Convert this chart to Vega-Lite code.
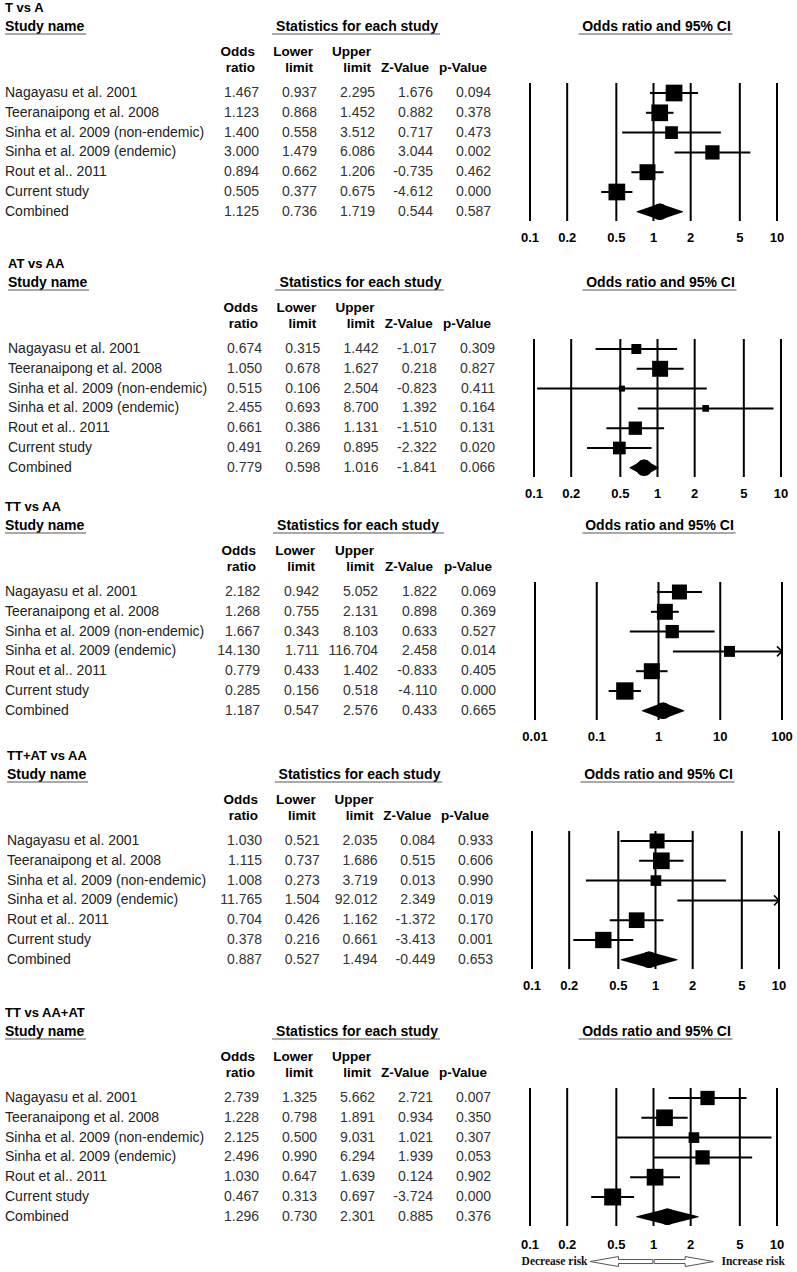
{
"$schema": "https://vega.github.io/schema/vega-lite/v6.json",
"background": "white",
"padding": 0,
"spacing": 0,
"bounds": "flush",
"config": {"view": {"stroke": null}, "text": {"font": "Liberation Sans"}, "locale": {"number": {"decimal": ".", "thousands": ",", "grouping": [3], "currency": ["$", ""], "minus": "-"}}},
"datasets": {
"panels": [{"panel":1,"title":"T vs A"},{"panel":2,"title":"AT vs AA"},{"panel":3,"title":"TT vs AA"},{"panel":4,"title":"TT+AT vs AA"},{"panel":5,"title":"TT vs AA+AT"}],
"colheads": [{"col":"or","l1":"Odds","l2":"ratio"},{"col":"lo","l1":"Lower","l2":"limit"},{"col":"hi","l1":"Upper","l2":"limit"},{"col":"z","l1":"","l2":"Z-Value"},{"col":"p","l1":"","l2":"p-Value"}],
"ticks": [
{"panel":1,"v":0.1},{"panel":1,"v":0.2},{"panel":1,"v":0.5},{"panel":1,"v":1},{"panel":1,"v":2},{"panel":1,"v":5},{"panel":1,"v":10},
{"panel":2,"v":0.1},{"panel":2,"v":0.2},{"panel":2,"v":0.5},{"panel":2,"v":1},{"panel":2,"v":2},{"panel":2,"v":5},{"panel":2,"v":10},
{"panel":3,"v":0.01},{"panel":3,"v":0.1},{"panel":3,"v":1},{"panel":3,"v":10},{"panel":3,"v":100},
{"panel":4,"v":0.1},{"panel":4,"v":0.2},{"panel":4,"v":0.5},{"panel":4,"v":1},{"panel":4,"v":2},{"panel":4,"v":5},{"panel":4,"v":10},
{"panel":5,"v":0.1},{"panel":5,"v":0.2},{"panel":5,"v":0.5},{"panel":5,"v":1},{"panel":5,"v":2},{"panel":5,"v":5},{"panel":5,"v":10}
],
"studies": [
{"panel":1,"row":1,"study":"Nagayasu et al. 2001","or":1.467,"lo":0.937,"hi":2.295,"z":1.676,"p":0.094,"wt":93},
{"panel":1,"row":2,"study":"Teeranaipong et al. 2008","or":1.123,"lo":0.868,"hi":1.452,"z":0.882,"p":0.378,"wt":93},
{"panel":1,"row":3,"study":"Sinha et al. 2009 (non-endemic)","or":1.400,"lo":0.558,"hi":3.512,"z":0.717,"p":0.473,"wt":54},
{"panel":1,"row":4,"study":"Sinha et al. 2009 (endemic)","or":3.000,"lo":1.479,"hi":6.086,"z":3.044,"p":0.002,"wt":68},
{"panel":1,"row":5,"study":"Rout et al.. 2011","or":0.894,"lo":0.662,"hi":1.206,"z":-0.735,"p":0.462,"wt":85},
{"panel":1,"row":6,"study":"Current study","or":0.505,"lo":0.377,"hi":0.675,"z":-4.612,"p":0.000,"wt":93},
{"panel":1,"row":7,"study":"Combined","or":1.125,"lo":0.736,"hi":1.719,"z":0.544,"p":0.587},
{"panel":2,"row":1,"study":"Nagayasu et al. 2001","or":0.674,"lo":0.315,"hi":1.442,"z":-1.017,"p":0.309,"wt":33},
{"panel":2,"row":2,"study":"Teeranaipong et al. 2008","or":1.050,"lo":0.678,"hi":1.627,"z":0.218,"p":0.827,"wt":85},
{"panel":2,"row":3,"study":"Sinha et al. 2009 (non-endemic)","or":0.515,"lo":0.106,"hi":2.504,"z":-0.823,"p":0.411,"wt":12},
{"panel":2,"row":4,"study":"Sinha et al. 2009 (endemic)","or":2.455,"lo":0.693,"hi":8.700,"z":1.392,"p":0.164,"wt":15},
{"panel":2,"row":5,"study":"Rout et al.. 2011","or":0.661,"lo":0.386,"hi":1.131,"z":-1.510,"p":0.131,"wt":59},
{"panel":2,"row":6,"study":"Current study","or":0.491,"lo":0.269,"hi":0.895,"z":-2.322,"p":0.020,"wt":54},
{"panel":2,"row":7,"study":"Combined","or":0.779,"lo":0.598,"hi":1.016,"z":-1.841,"p":0.066},
{"panel":3,"row":1,"study":"Nagayasu et al. 2001","or":2.182,"lo":0.942,"hi":5.052,"z":1.822,"p":0.069,"wt":75},
{"panel":3,"row":2,"study":"Teeranaipong et al. 2008","or":1.268,"lo":0.755,"hi":2.131,"z":0.898,"p":0.369,"wt":85},
{"panel":3,"row":3,"study":"Sinha et al. 2009 (non-endemic)","or":1.667,"lo":0.343,"hi":8.103,"z":0.633,"p":0.527,"wt":59},
{"panel":3,"row":4,"study":"Sinha et al. 2009 (endemic)","or":14.130,"lo":1.711,"hi":116.704,"z":2.458,"p":0.014,"wt":40},
{"panel":3,"row":5,"study":"Rout et al.. 2011","or":0.779,"lo":0.433,"hi":1.402,"z":-0.833,"p":0.405,"wt":85},
{"panel":3,"row":6,"study":"Current study","or":0.285,"lo":0.156,"hi":0.518,"z":-4.110,"p":0.000,"wt":100},
{"panel":3,"row":7,"study":"Combined","or":1.187,"lo":0.547,"hi":2.576,"z":0.433,"p":0.665},
{"panel":4,"row":1,"study":"Nagayasu et al. 2001","or":1.030,"lo":0.521,"hi":2.035,"z":0.084,"p":0.933,"wt":75},
{"panel":4,"row":2,"study":"Teeranaipong et al. 2008","or":1.115,"lo":0.737,"hi":1.686,"z":0.515,"p":0.606,"wt":93},
{"panel":4,"row":3,"study":"Sinha et al. 2009 (non-endemic)","or":1.008,"lo":0.273,"hi":3.719,"z":0.013,"p":0.990,"wt":38},
{"panel":4,"row":4,"study":"Sinha et al. 2009 (endemic)","or":11.765,"lo":1.504,"hi":92.012,"z":2.349,"p":0.019,"wt":40},
{"panel":4,"row":5,"study":"Rout et al.. 2011","or":0.704,"lo":0.426,"hi":1.162,"z":-1.372,"p":0.170,"wt":82},
{"panel":4,"row":6,"study":"Current study","or":0.378,"lo":0.216,"hi":0.661,"z":-3.413,"p":0.001,"wt":89},
{"panel":4,"row":7,"study":"Combined","or":0.887,"lo":0.527,"hi":1.494,"z":-0.449,"p":0.653},
{"panel":5,"row":1,"study":"Nagayasu et al. 2001","or":2.739,"lo":1.325,"hi":5.662,"z":2.721,"p":0.007,"wt":68},
{"panel":5,"row":2,"study":"Teeranaipong et al. 2008","or":1.228,"lo":0.798,"hi":1.891,"z":0.934,"p":0.350,"wt":93},
{"panel":5,"row":3,"study":"Sinha et al. 2009 (non-endemic)","or":2.125,"lo":0.500,"hi":9.031,"z":1.021,"p":0.307,"wt":38},
{"panel":5,"row":4,"study":"Sinha et al. 2009 (endemic)","or":2.496,"lo":0.990,"hi":6.294,"z":1.939,"p":0.053,"wt":68},
{"panel":5,"row":5,"study":"Rout et al.. 2011","or":1.030,"lo":0.647,"hi":1.639,"z":0.124,"p":0.902,"wt":93},
{"panel":5,"row":6,"study":"Current study","or":0.467,"lo":0.313,"hi":0.697,"z":-3.724,"p":0.000,"wt":96},
{"panel":5,"row":7,"study":"Combined","or":1.296,"lo":0.730,"hi":2.301,"z":0.885,"p":0.376}
]
},
"vconcat": [
{
"width": 797, "height": 256,
"resolve": {"scale": {"x": "independent"}},
"layer": [
{"layer": [
{"data": {"name": "panels"}, "transform": [{"filter": "datum.panel == 1"}],
 "mark": {"type": "text", "align": "left", "baseline": "middle", "fontSize": 13, "fontWeight": "bold", "color": "#000"},
 "encoding": {"x": {"datum": "name", "type": "nominal", "scale": {"type": "point", "domain": ["name"], "range": [5, 5], "padding": 0}, "axis": null},
  "y": {"datum": -3.29, "type": "quantitative", "scale": {"domain": [-3.697, 9.232], "reverse": true, "nice": false, "zero": false}, "axis": null},
  "text": {"field": "title", "type": "nominal"}}},
{"data": {"name": "panels"}, "transform": [{"filter": "datum.panel == 1"}],
 "mark": {"type": "text", "align": "left", "baseline": "middle", "fontSize": 14, "fontWeight": "bold", "color": "#000", "text": "Study name"},
 "encoding": {"x": {"datum": "name", "type": "nominal", "axis": null}, "y": {"datum": -2.31, "type": "quantitative", "axis": null}}},
{"data": {"name": "panels"}, "transform": [{"filter": "datum.panel == 1"}],
 "mark": {"type": "rule", "x2Offset": 81, "color": "#555", "strokeWidth": 1.2},
 "encoding": {"x": {"datum": "name", "type": "nominal", "axis": null}, "x2": {"datum": "name"}, "y": {"datum": -1.98, "type": "quantitative", "axis": null}}},
{"data": {"name": "studies"}, "transform": [{"filter": "datum.panel == 1"}],
 "mark": {"type": "text", "align": "left", "baseline": "middle", "fontSize": 14, "color": "#222"},
 "encoding": {"x": {"datum": "name", "type": "nominal", "axis": null}, "y": {"field": "row", "type": "quantitative", "axis": null}, "text": {"field": "study", "type": "nominal"}}}
]},
{"layer": [
{"data": {"name": "studies"}, "transform": [{"filter": "datum.panel == 1"}, {"fold": ["or", "lo", "hi", "z", "p"], "as": ["col", "val"]}],
 "mark": {"type": "text", "align": "right", "baseline": "middle", "fontSize": 14, "color": "#333"},
 "encoding": {"x": {"field": "col", "type": "nominal", "scale": {"type": "point", "domain": ["or", "lo", "hi", "z", "p"], "range": [259, 491], "padding": 0}, "axis": null},
  "y": {"field": "row", "type": "quantitative", "axis": null},
  "text": {"field": "val", "type": "quantitative", "format": ".3f"}}},
{"data": {"name": "colheads"},
 "mark": {"type": "text", "align": "right", "baseline": "middle", "dx": -4, "fontSize": 13.5, "fontWeight": "bold", "color": "#000"},
 "encoding": {"x": {"field": "col", "type": "nominal", "axis": null}, "y": {"datum": -1.056, "type": "quantitative", "axis": null}, "text": {"field": "l1", "type": "nominal"}}},
{"data": {"name": "colheads"},
 "mark": {"type": "text", "align": "right", "baseline": "middle", "dx": -4, "fontSize": 13.5, "fontWeight": "bold", "color": "#000"},
 "encoding": {"x": {"field": "col", "type": "nominal", "axis": null}, "y": {"datum": -0.247, "type": "quantitative", "axis": null}, "text": {"field": "l2", "type": "nominal"}}},
{"data": {"name": "panels"}, "transform": [{"filter": "datum.panel == 1"}],
 "mark": {"type": "text", "align": "center", "baseline": "middle", "dx": -18, "fontSize": 14, "fontWeight": "bold", "color": "#000", "text": "Statistics for each study"},
 "encoding": {"x": {"datum": "hi", "type": "nominal", "axis": null}, "y": {"datum": -2.31, "type": "quantitative", "axis": null}}},
{"data": {"name": "panels"}, "transform": [{"filter": "datum.panel == 1"}],
 "mark": {"type": "rule", "xOffset": 13, "x2Offset": 7, "color": "#555", "strokeWidth": 1.2},
 "encoding": {"x": {"datum": "or", "type": "nominal", "axis": null}, "x2": {"datum": "z"}, "y": {"datum": -1.98, "type": "quantitative", "axis": null}}}
]},
{"resolve": {"scale": {"size": "independent"}},
 "layer": [
{"data": {"name": "panels"}, "transform": [{"filter": "datum.panel == 1"}],
 "mark": {"type": "text", "align": "center", "baseline": "middle", "dx": 3, "fontSize": 14, "fontWeight": "bold", "color": "#000", "text": "Odds ratio and 95% CI"},
 "encoding": {"x": {"datum": 1, "type": "quantitative", "scale": {"type": "log", "domain": [0.1, 10], "range": [530, 777], "clamp": true, "nice": false}, "axis": null}, "y": {"datum": -2.31, "type": "quantitative", "axis": null}}},
{"data": {"name": "panels"}, "transform": [{"filter": "datum.panel == 1"}],
 "mark": {"type": "rule", "xOffset": -75, "x2Offset": 79, "color": "#555", "strokeWidth": 1.2},
 "encoding": {"x": {"datum": 1, "type": "quantitative", "axis": null}, "x2": {"datum": 1}, "y": {"datum": -1.98, "type": "quantitative", "axis": null}}},
{"data": {"name": "ticks"}, "transform": [{"filter": "datum.panel == 1"}],
 "mark": {"type": "rule", "color": "#000", "strokeWidth": 2},
 "encoding": {"x": {"field": "v", "type": "quantitative", "axis": null}, "y": {"datum": 0.495, "type": "quantitative", "axis": null}, "y2": {"datum": 7.465}}},
{"data": {"name": "ticks"}, "transform": [{"filter": "datum.panel == 1"}],
 "mark": {"type": "text", "align": "center", "baseline": "middle", "fontSize": 13, "fontWeight": "bold", "color": "#000"},
 "encoding": {"x": {"field": "v", "type": "quantitative", "axis": null}, "y": {"datum": 8.34, "type": "quantitative", "axis": null}, "text": {"field": "v", "type": "quantitative", "format": "~g"}}},
{"data": {"name": "studies"}, "transform": [{"filter": "datum.panel == 1 && datum.row < 7"}],
 "mark": {"type": "rule", "color": "#000", "strokeWidth": 2},
 "encoding": {"x": {"field": "lo", "type": "quantitative", "axis": null}, "x2": {"field": "hi"}, "y": {"field": "row", "type": "quantitative", "axis": null}}},
{"data": {"name": "studies"}, "transform": [{"filter": "datum.panel == 1 && datum.row < 7 && datum.or <= 10"}],
 "mark": {"type": "square", "filled": true, "color": "#000", "opacity": 1},
 "encoding": {"x": {"field": "or", "type": "quantitative", "axis": null}, "y": {"field": "row", "type": "quantitative", "axis": null}, "size": {"field": "wt", "type": "quantitative", "scale": {"domain": [0, 100], "range": [0, 300]}, "legend": null}}},
{"data": {"name": "studies"}, "transform": [{"filter": "datum.panel == 1 && datum.row == 7"}, {"fold": ["lo", "or"], "as": ["k", "xv"]}],
 "mark": {"type": "trail", "color": "#000"},
 "encoding": {"x": {"field": "xv", "type": "quantitative", "axis": null}, "y": {"field": "row", "type": "quantitative", "axis": null}, "size": {"field": "k", "type": "ordinal", "scale": {"type": "point", "domain": ["lo", "or"], "range": [0, 16.5]}, "legend": null}}},
{"data": {"name": "studies"}, "transform": [{"filter": "datum.panel == 1 && datum.row == 7"}, {"fold": ["or", "hi"], "as": ["k", "xv"]}],
 "mark": {"type": "trail", "color": "#000"},
 "encoding": {"x": {"field": "xv", "type": "quantitative", "axis": null}, "y": {"field": "row", "type": "quantitative", "axis": null}, "size": {"field": "k", "type": "ordinal", "scale": {"type": "point", "domain": ["hi", "or"], "range": [0, 16.5]}, "legend": null}}}
]}
]
},
{
"width": 797, "height": 243,
"resolve": {"scale": {"x": "independent"}},
"layer": [
{"layer": [
{"data": {"name": "panels"}, "transform": [{"filter": "datum.panel == 2"}],
 "mark": {"type": "text", "align": "left", "baseline": "middle", "fontSize": 13, "fontWeight": "bold", "color": "#000"},
 "encoding": {"x": {"datum": "name", "type": "nominal", "scale": {"type": "point", "domain": ["name"], "range": [8, 8], "padding": 0}, "axis": null},
  "y": {"datum": -3.29, "type": "quantitative", "scale": {"domain": [-3.697, 8.576], "reverse": true, "nice": false, "zero": false}, "axis": null},
  "text": {"field": "title", "type": "nominal"}}},
{"data": {"name": "panels"}, "transform": [{"filter": "datum.panel == 2"}],
 "mark": {"type": "text", "align": "left", "baseline": "middle", "fontSize": 14, "fontWeight": "bold", "color": "#000", "text": "Study name"},
 "encoding": {"x": {"datum": "name", "type": "nominal", "axis": null}, "y": {"datum": -2.31, "type": "quantitative", "axis": null}}},
{"data": {"name": "panels"}, "transform": [{"filter": "datum.panel == 2"}],
 "mark": {"type": "rule", "x2Offset": 81, "color": "#555", "strokeWidth": 1.2},
 "encoding": {"x": {"datum": "name", "type": "nominal", "axis": null}, "x2": {"datum": "name"}, "y": {"datum": -1.98, "type": "quantitative", "axis": null}}},
{"data": {"name": "studies"}, "transform": [{"filter": "datum.panel == 2"}],
 "mark": {"type": "text", "align": "left", "baseline": "middle", "fontSize": 14, "color": "#222"},
 "encoding": {"x": {"datum": "name", "type": "nominal", "axis": null}, "y": {"field": "row", "type": "quantitative", "axis": null}, "text": {"field": "study", "type": "nominal"}}}
]},
{"layer": [
{"data": {"name": "studies"}, "transform": [{"filter": "datum.panel == 2"}, {"fold": ["or", "lo", "hi", "z", "p"], "as": ["col", "val"]}],
 "mark": {"type": "text", "align": "right", "baseline": "middle", "fontSize": 14, "color": "#333"},
 "encoding": {"x": {"field": "col", "type": "nominal", "scale": {"type": "point", "domain": ["or", "lo", "hi", "z", "p"], "range": [262, 495], "padding": 0}, "axis": null},
  "y": {"field": "row", "type": "quantitative", "axis": null},
  "text": {"field": "val", "type": "quantitative", "format": ".3f"}}},
{"data": {"name": "colheads"},
 "mark": {"type": "text", "align": "right", "baseline": "middle", "dx": -4, "fontSize": 13.5, "fontWeight": "bold", "color": "#000"},
 "encoding": {"x": {"field": "col", "type": "nominal", "axis": null}, "y": {"datum": -1.056, "type": "quantitative", "axis": null}, "text": {"field": "l1", "type": "nominal"}}},
{"data": {"name": "colheads"},
 "mark": {"type": "text", "align": "right", "baseline": "middle", "dx": -4, "fontSize": 13.5, "fontWeight": "bold", "color": "#000"},
 "encoding": {"x": {"field": "col", "type": "nominal", "axis": null}, "y": {"datum": -0.247, "type": "quantitative", "axis": null}, "text": {"field": "l2", "type": "nominal"}}},
{"data": {"name": "panels"}, "transform": [{"filter": "datum.panel == 2"}],
 "mark": {"type": "text", "align": "center", "baseline": "middle", "dx": -18, "fontSize": 14, "fontWeight": "bold", "color": "#000", "text": "Statistics for each study"},
 "encoding": {"x": {"datum": "hi", "type": "nominal", "axis": null}, "y": {"datum": -2.31, "type": "quantitative", "axis": null}}},
{"data": {"name": "panels"}, "transform": [{"filter": "datum.panel == 2"}],
 "mark": {"type": "rule", "xOffset": 13, "x2Offset": 7, "color": "#555", "strokeWidth": 1.2},
 "encoding": {"x": {"datum": "or", "type": "nominal", "axis": null}, "x2": {"datum": "z"}, "y": {"datum": -1.98, "type": "quantitative", "axis": null}}}
]},
{"resolve": {"scale": {"size": "independent"}},
 "layer": [
{"data": {"name": "panels"}, "transform": [{"filter": "datum.panel == 2"}],
 "mark": {"type": "text", "align": "center", "baseline": "middle", "dx": 3, "fontSize": 14, "fontWeight": "bold", "color": "#000", "text": "Odds ratio and 95% CI"},
 "encoding": {"x": {"datum": 1, "type": "quantitative", "scale": {"type": "log", "domain": [0.1, 10], "range": [534, 781], "clamp": true, "nice": false}, "axis": null}, "y": {"datum": -2.31, "type": "quantitative", "axis": null}}},
{"data": {"name": "panels"}, "transform": [{"filter": "datum.panel == 2"}],
 "mark": {"type": "rule", "xOffset": -75, "x2Offset": 79, "color": "#555", "strokeWidth": 1.2},
 "encoding": {"x": {"datum": 1, "type": "quantitative", "axis": null}, "x2": {"datum": 1}, "y": {"datum": -1.98, "type": "quantitative", "axis": null}}},
{"data": {"name": "ticks"}, "transform": [{"filter": "datum.panel == 2"}],
 "mark": {"type": "rule", "color": "#000", "strokeWidth": 2},
 "encoding": {"x": {"field": "v", "type": "quantitative", "axis": null}, "y": {"datum": 0.495, "type": "quantitative", "axis": null}, "y2": {"datum": 7.465}}},
{"data": {"name": "ticks"}, "transform": [{"filter": "datum.panel == 2"}],
 "mark": {"type": "text", "align": "center", "baseline": "middle", "fontSize": 13, "fontWeight": "bold", "color": "#000"},
 "encoding": {"x": {"field": "v", "type": "quantitative", "axis": null}, "y": {"datum": 8.34, "type": "quantitative", "axis": null}, "text": {"field": "v", "type": "quantitative", "format": "~g"}}},
{"data": {"name": "studies"}, "transform": [{"filter": "datum.panel == 2 && datum.row < 7"}],
 "mark": {"type": "rule", "color": "#000", "strokeWidth": 2},
 "encoding": {"x": {"field": "lo", "type": "quantitative", "axis": null}, "x2": {"field": "hi"}, "y": {"field": "row", "type": "quantitative", "axis": null}}},
{"data": {"name": "studies"}, "transform": [{"filter": "datum.panel == 2 && datum.row < 7 && datum.or <= 10"}],
 "mark": {"type": "square", "filled": true, "color": "#000", "opacity": 1},
 "encoding": {"x": {"field": "or", "type": "quantitative", "axis": null}, "y": {"field": "row", "type": "quantitative", "axis": null}, "size": {"field": "wt", "type": "quantitative", "scale": {"domain": [0, 100], "range": [0, 300]}, "legend": null}}},
{"data": {"name": "studies"}, "transform": [{"filter": "datum.panel == 2 && datum.row == 7"}, {"fold": ["lo", "or"], "as": ["k", "xv"]}],
 "mark": {"type": "trail", "color": "#000"},
 "encoding": {"x": {"field": "xv", "type": "quantitative", "axis": null}, "y": {"field": "row", "type": "quantitative", "axis": null}, "size": {"field": "k", "type": "ordinal", "scale": {"type": "point", "domain": ["lo", "or"], "range": [0, 16.5]}, "legend": null}}},
{"data": {"name": "studies"}, "transform": [{"filter": "datum.panel == 2 && datum.row == 7"}, {"fold": ["or", "hi"], "as": ["k", "xv"]}],
 "mark": {"type": "trail", "color": "#000"},
 "encoding": {"x": {"field": "xv", "type": "quantitative", "axis": null}, "y": {"field": "row", "type": "quantitative", "axis": null}, "size": {"field": "k", "type": "ordinal", "scale": {"type": "point", "domain": ["hi", "or"], "range": [0, 16.5]}, "legend": null}}}
]}
]
},
{
"width": 797, "height": 249,
"resolve": {"scale": {"x": "independent"}},
"layer": [
{"layer": [
{"data": {"name": "panels"}, "transform": [{"filter": "datum.panel == 3"}],
 "mark": {"type": "text", "align": "left", "baseline": "middle", "fontSize": 13, "fontWeight": "bold", "color": "#000"},
 "encoding": {"x": {"datum": "name", "type": "nominal", "scale": {"type": "point", "domain": ["name"], "range": [5, 5], "padding": 0}, "axis": null},
  "y": {"datum": -3.29, "type": "quantitative", "scale": {"domain": [-3.697, 8.879], "reverse": true, "nice": false, "zero": false}, "axis": null},
  "text": {"field": "title", "type": "nominal"}}},
{"data": {"name": "panels"}, "transform": [{"filter": "datum.panel == 3"}],
 "mark": {"type": "text", "align": "left", "baseline": "middle", "fontSize": 14, "fontWeight": "bold", "color": "#000", "text": "Study name"},
 "encoding": {"x": {"datum": "name", "type": "nominal", "axis": null}, "y": {"datum": -2.31, "type": "quantitative", "axis": null}}},
{"data": {"name": "panels"}, "transform": [{"filter": "datum.panel == 3"}],
 "mark": {"type": "rule", "x2Offset": 81, "color": "#555", "strokeWidth": 1.2},
 "encoding": {"x": {"datum": "name", "type": "nominal", "axis": null}, "x2": {"datum": "name"}, "y": {"datum": -1.98, "type": "quantitative", "axis": null}}},
{"data": {"name": "studies"}, "transform": [{"filter": "datum.panel == 3"}],
 "mark": {"type": "text", "align": "left", "baseline": "middle", "fontSize": 14, "color": "#222"},
 "encoding": {"x": {"datum": "name", "type": "nominal", "axis": null}, "y": {"field": "row", "type": "quantitative", "axis": null}, "text": {"field": "study", "type": "nominal"}}}
]},
{"layer": [
{"data": {"name": "studies"}, "transform": [{"filter": "datum.panel == 3"}, {"fold": ["or", "lo", "hi", "z", "p"], "as": ["col", "val"]}],
 "mark": {"type": "text", "align": "right", "baseline": "middle", "fontSize": 14, "color": "#333"},
 "encoding": {"x": {"field": "col", "type": "nominal", "scale": {"type": "point", "domain": ["or", "lo", "hi", "z", "p"], "range": [260, 496], "padding": 0}, "axis": null},
  "y": {"field": "row", "type": "quantitative", "axis": null},
  "text": {"field": "val", "type": "quantitative", "format": ".3f"}}},
{"data": {"name": "colheads"},
 "mark": {"type": "text", "align": "right", "baseline": "middle", "dx": -4, "fontSize": 13.5, "fontWeight": "bold", "color": "#000"},
 "encoding": {"x": {"field": "col", "type": "nominal", "axis": null}, "y": {"datum": -1.056, "type": "quantitative", "axis": null}, "text": {"field": "l1", "type": "nominal"}}},
{"data": {"name": "colheads"},
 "mark": {"type": "text", "align": "right", "baseline": "middle", "dx": -4, "fontSize": 13.5, "fontWeight": "bold", "color": "#000"},
 "encoding": {"x": {"field": "col", "type": "nominal", "axis": null}, "y": {"datum": -0.247, "type": "quantitative", "axis": null}, "text": {"field": "l2", "type": "nominal"}}},
{"data": {"name": "panels"}, "transform": [{"filter": "datum.panel == 3"}],
 "mark": {"type": "text", "align": "center", "baseline": "middle", "dx": -20, "fontSize": 14, "fontWeight": "bold", "color": "#000", "text": "Statistics for each study"},
 "encoding": {"x": {"datum": "hi", "type": "nominal", "axis": null}, "y": {"datum": -2.31, "type": "quantitative", "axis": null}}},
{"data": {"name": "panels"}, "transform": [{"filter": "datum.panel == 3"}],
 "mark": {"type": "rule", "xOffset": 13, "x2Offset": 7, "color": "#555", "strokeWidth": 1.2},
 "encoding": {"x": {"datum": "or", "type": "nominal", "axis": null}, "x2": {"datum": "z"}, "y": {"datum": -1.98, "type": "quantitative", "axis": null}}}
]},
{"resolve": {"scale": {"size": "independent"}},
 "layer": [
{"data": {"name": "panels"}, "transform": [{"filter": "datum.panel == 3"}],
 "mark": {"type": "text", "align": "center", "baseline": "middle", "dx": 1, "fontSize": 14, "fontWeight": "bold", "color": "#000", "text": "Odds ratio and 95% CI"},
 "encoding": {"x": {"datum": 1, "type": "quantitative", "scale": {"type": "log", "domain": [0.01, 100], "range": [535, 782], "clamp": true, "nice": false}, "axis": null}, "y": {"datum": -2.31, "type": "quantitative", "axis": null}}},
{"data": {"name": "panels"}, "transform": [{"filter": "datum.panel == 3"}],
 "mark": {"type": "rule", "xOffset": -76, "x2Offset": 77, "color": "#555", "strokeWidth": 1.2},
 "encoding": {"x": {"datum": 1, "type": "quantitative", "axis": null}, "x2": {"datum": 1}, "y": {"datum": -1.98, "type": "quantitative", "axis": null}}},
{"data": {"name": "ticks"}, "transform": [{"filter": "datum.panel == 3"}],
 "mark": {"type": "rule", "color": "#000", "strokeWidth": 2},
 "encoding": {"x": {"field": "v", "type": "quantitative", "axis": null}, "y": {"datum": 0.495, "type": "quantitative", "axis": null}, "y2": {"datum": 7.465}}},
{"data": {"name": "ticks"}, "transform": [{"filter": "datum.panel == 3"}],
 "mark": {"type": "text", "align": "center", "baseline": "middle", "fontSize": 13, "fontWeight": "bold", "color": "#000"},
 "encoding": {"x": {"field": "v", "type": "quantitative", "axis": null}, "y": {"datum": 8.34, "type": "quantitative", "axis": null}, "text": {"field": "v", "type": "quantitative", "format": "~g"}}},
{"data": {"name": "studies"}, "transform": [{"filter": "datum.panel == 3 && datum.row < 7"}],
 "mark": {"type": "rule", "color": "#000", "strokeWidth": 2},
 "encoding": {"x": {"field": "lo", "type": "quantitative", "axis": null}, "x2": {"field": "hi"}, "y": {"field": "row", "type": "quantitative", "axis": null}}},
{"data": {"name": "studies"}, "transform": [{"filter": "datum.panel == 3 && datum.row < 7 && datum.or <= 100"}],
 "mark": {"type": "square", "filled": true, "color": "#000", "opacity": 1},
 "encoding": {"x": {"field": "or", "type": "quantitative", "axis": null}, "y": {"field": "row", "type": "quantitative", "axis": null}, "size": {"field": "wt", "type": "quantitative", "scale": {"domain": [0, 100], "range": [0, 300]}, "legend": null}}},
{"data": {"name": "studies"}, "transform": [{"filter": "datum.panel == 3 && datum.row < 7 && datum.hi > 100"}],
 "mark": {"type": "point", "shape": "M-1,-1L0,0L-1,1", "filled": false, "color": "#000", "strokeWidth": 1.5, "size": 100, "opacity": 1},
 "encoding": {"x": {"field": "hi", "type": "quantitative", "axis": null}, "y": {"field": "row", "type": "quantitative", "axis": null}}},
{"data": {"name": "studies"}, "transform": [{"filter": "datum.panel == 3 && datum.row == 7"}, {"fold": ["lo", "or"], "as": ["k", "xv"]}],
 "mark": {"type": "trail", "color": "#000"},
 "encoding": {"x": {"field": "xv", "type": "quantitative", "axis": null}, "y": {"field": "row", "type": "quantitative", "axis": null}, "size": {"field": "k", "type": "ordinal", "scale": {"type": "point", "domain": ["lo", "or"], "range": [0, 16.5]}, "legend": null}}},
{"data": {"name": "studies"}, "transform": [{"filter": "datum.panel == 3 && datum.row == 7"}, {"fold": ["or", "hi"], "as": ["k", "xv"]}],
 "mark": {"type": "trail", "color": "#000"},
 "encoding": {"x": {"field": "xv", "type": "quantitative", "axis": null}, "y": {"field": "row", "type": "quantitative", "axis": null}, "size": {"field": "k", "type": "ordinal", "scale": {"type": "point", "domain": ["hi", "or"], "range": [0, 16.5]}, "legend": null}}}
]}
]
},
{
"width": 797, "height": 257,
"resolve": {"scale": {"x": "independent"}},
"layer": [
{"layer": [
{"data": {"name": "panels"}, "transform": [{"filter": "datum.panel == 4"}],
 "mark": {"type": "text", "align": "left", "baseline": "middle", "fontSize": 13, "fontWeight": "bold", "color": "#000"},
 "encoding": {"x": {"datum": "name", "type": "nominal", "scale": {"type": "point", "domain": ["name"], "range": [7, 7], "padding": 0}, "axis": null},
  "y": {"datum": -3.29, "type": "quantitative", "scale": {"domain": [-3.697, 9.283], "reverse": true, "nice": false, "zero": false}, "axis": null},
  "text": {"field": "title", "type": "nominal"}}},
{"data": {"name": "panels"}, "transform": [{"filter": "datum.panel == 4"}],
 "mark": {"type": "text", "align": "left", "baseline": "middle", "fontSize": 14, "fontWeight": "bold", "color": "#000", "text": "Study name"},
 "encoding": {"x": {"datum": "name", "type": "nominal", "axis": null}, "y": {"datum": -2.31, "type": "quantitative", "axis": null}}},
{"data": {"name": "panels"}, "transform": [{"filter": "datum.panel == 4"}],
 "mark": {"type": "rule", "x2Offset": 81, "color": "#555", "strokeWidth": 1.2},
 "encoding": {"x": {"datum": "name", "type": "nominal", "axis": null}, "x2": {"datum": "name"}, "y": {"datum": -1.98, "type": "quantitative", "axis": null}}},
{"data": {"name": "studies"}, "transform": [{"filter": "datum.panel == 4"}],
 "mark": {"type": "text", "align": "left", "baseline": "middle", "fontSize": 14, "color": "#222"},
 "encoding": {"x": {"datum": "name", "type": "nominal", "axis": null}, "y": {"field": "row", "type": "quantitative", "axis": null}, "text": {"field": "study", "type": "nominal"}}}
]},
{"layer": [
{"data": {"name": "studies"}, "transform": [{"filter": "datum.panel == 4"}, {"fold": ["or", "lo", "hi", "z", "p"], "as": ["col", "val"]}],
 "mark": {"type": "text", "align": "right", "baseline": "middle", "fontSize": 14, "color": "#333"},
 "encoding": {"x": {"field": "col", "type": "nominal", "scale": {"type": "point", "domain": ["or", "lo", "hi", "z", "p"], "range": [262, 493], "padding": 0}, "axis": null},
  "y": {"field": "row", "type": "quantitative", "axis": null},
  "text": {"field": "val", "type": "quantitative", "format": ".3f"}}},
{"data": {"name": "colheads"},
 "mark": {"type": "text", "align": "right", "baseline": "middle", "dx": -4, "fontSize": 13.5, "fontWeight": "bold", "color": "#000"},
 "encoding": {"x": {"field": "col", "type": "nominal", "axis": null}, "y": {"datum": -1.056, "type": "quantitative", "axis": null}, "text": {"field": "l1", "type": "nominal"}}},
{"data": {"name": "colheads"},
 "mark": {"type": "text", "align": "right", "baseline": "middle", "dx": -4, "fontSize": 13.5, "fontWeight": "bold", "color": "#000"},
 "encoding": {"x": {"field": "col", "type": "nominal", "axis": null}, "y": {"datum": -0.247, "type": "quantitative", "axis": null}, "text": {"field": "l2", "type": "nominal"}}},
{"data": {"name": "panels"}, "transform": [{"filter": "datum.panel == 4"}],
 "mark": {"type": "text", "align": "center", "baseline": "middle", "dx": -18, "fontSize": 14, "fontWeight": "bold", "color": "#000", "text": "Statistics for each study"},
 "encoding": {"x": {"datum": "hi", "type": "nominal", "axis": null}, "y": {"datum": -2.31, "type": "quantitative", "axis": null}}},
{"data": {"name": "panels"}, "transform": [{"filter": "datum.panel == 4"}],
 "mark": {"type": "rule", "xOffset": 13, "x2Offset": 7, "color": "#555", "strokeWidth": 1.2},
 "encoding": {"x": {"datum": "or", "type": "nominal", "axis": null}, "x2": {"datum": "z"}, "y": {"datum": -1.98, "type": "quantitative", "axis": null}}}
]},
{"resolve": {"scale": {"size": "independent"}},
 "layer": [
{"data": {"name": "panels"}, "transform": [{"filter": "datum.panel == 4"}],
 "mark": {"type": "text", "align": "center", "baseline": "middle", "dx": 3, "fontSize": 14, "fontWeight": "bold", "color": "#000", "text": "Odds ratio and 95% CI"},
 "encoding": {"x": {"datum": 1, "type": "quantitative", "scale": {"type": "log", "domain": [0.1, 10], "range": [532, 779], "clamp": true, "nice": false}, "axis": null}, "y": {"datum": -2.31, "type": "quantitative", "axis": null}}},
{"data": {"name": "panels"}, "transform": [{"filter": "datum.panel == 4"}],
 "mark": {"type": "rule", "xOffset": -75, "x2Offset": 79, "color": "#555", "strokeWidth": 1.2},
 "encoding": {"x": {"datum": 1, "type": "quantitative", "axis": null}, "x2": {"datum": 1}, "y": {"datum": -1.98, "type": "quantitative", "axis": null}}},
{"data": {"name": "ticks"}, "transform": [{"filter": "datum.panel == 4"}],
 "mark": {"type": "rule", "color": "#000", "strokeWidth": 2},
 "encoding": {"x": {"field": "v", "type": "quantitative", "axis": null}, "y": {"datum": 0.495, "type": "quantitative", "axis": null}, "y2": {"datum": 7.465}}},
{"data": {"name": "ticks"}, "transform": [{"filter": "datum.panel == 4"}],
 "mark": {"type": "text", "align": "center", "baseline": "middle", "fontSize": 13, "fontWeight": "bold", "color": "#000"},
 "encoding": {"x": {"field": "v", "type": "quantitative", "axis": null}, "y": {"datum": 8.34, "type": "quantitative", "axis": null}, "text": {"field": "v", "type": "quantitative", "format": "~g"}}},
{"data": {"name": "studies"}, "transform": [{"filter": "datum.panel == 4 && datum.row < 7"}],
 "mark": {"type": "rule", "color": "#000", "strokeWidth": 2},
 "encoding": {"x": {"field": "lo", "type": "quantitative", "axis": null}, "x2": {"field": "hi"}, "y": {"field": "row", "type": "quantitative", "axis": null}}},
{"data": {"name": "studies"}, "transform": [{"filter": "datum.panel == 4 && datum.row < 7 && datum.or <= 10"}],
 "mark": {"type": "square", "filled": true, "color": "#000", "opacity": 1},
 "encoding": {"x": {"field": "or", "type": "quantitative", "axis": null}, "y": {"field": "row", "type": "quantitative", "axis": null}, "size": {"field": "wt", "type": "quantitative", "scale": {"domain": [0, 100], "range": [0, 300]}, "legend": null}}},
{"data": {"name": "studies"}, "transform": [{"filter": "datum.panel == 4 && datum.row < 7 && datum.hi > 10"}],
 "mark": {"type": "point", "shape": "M-1,-1L0,0L-1,1", "filled": false, "color": "#000", "strokeWidth": 1.5, "size": 100, "opacity": 1},
 "encoding": {"x": {"field": "hi", "type": "quantitative", "axis": null}, "y": {"field": "row", "type": "quantitative", "axis": null}}},
{"data": {"name": "studies"}, "transform": [{"filter": "datum.panel == 4 && datum.row == 7"}, {"fold": ["lo", "or"], "as": ["k", "xv"]}],
 "mark": {"type": "trail", "color": "#000"},
 "encoding": {"x": {"field": "xv", "type": "quantitative", "axis": null}, "y": {"field": "row", "type": "quantitative", "axis": null}, "size": {"field": "k", "type": "ordinal", "scale": {"type": "point", "domain": ["lo", "or"], "range": [0, 16.5]}, "legend": null}}},
{"data": {"name": "studies"}, "transform": [{"filter": "datum.panel == 4 && datum.row == 7"}, {"fold": ["or", "hi"], "as": ["k", "xv"]}],
 "mark": {"type": "trail", "color": "#000"},
 "encoding": {"x": {"field": "xv", "type": "quantitative", "axis": null}, "y": {"field": "row", "type": "quantitative", "axis": null}, "size": {"field": "k", "type": "ordinal", "scale": {"type": "point", "domain": ["hi", "or"], "range": [0, 16.5]}, "legend": null}}}
]}
]
},
{
"width": 797, "height": 267,
"resolve": {"scale": {"x": "independent"}},
"layer": [
{"layer": [
{"data": {"name": "panels"}, "transform": [{"filter": "datum.panel == 5"}],
 "mark": {"type": "text", "align": "left", "baseline": "middle", "fontSize": 13, "fontWeight": "bold", "color": "#000"},
 "encoding": {"x": {"datum": "name", "type": "nominal", "scale": {"type": "point", "domain": ["name"], "range": [5, 5], "padding": 0}, "axis": null},
  "y": {"datum": -3.29, "type": "quantitative", "scale": {"domain": [-3.697, 9.788], "reverse": true, "nice": false, "zero": false}, "axis": null},
  "text": {"field": "title", "type": "nominal"}}},
{"data": {"name": "panels"}, "transform": [{"filter": "datum.panel == 5"}],
 "mark": {"type": "text", "align": "left", "baseline": "middle", "fontSize": 14, "fontWeight": "bold", "color": "#000", "text": "Study name"},
 "encoding": {"x": {"datum": "name", "type": "nominal", "axis": null}, "y": {"datum": -2.31, "type": "quantitative", "axis": null}}},
{"data": {"name": "panels"}, "transform": [{"filter": "datum.panel == 5"}],
 "mark": {"type": "rule", "x2Offset": 81, "color": "#555", "strokeWidth": 1.2},
 "encoding": {"x": {"datum": "name", "type": "nominal", "axis": null}, "x2": {"datum": "name"}, "y": {"datum": -1.98, "type": "quantitative", "axis": null}}},
{"data": {"name": "studies"}, "transform": [{"filter": "datum.panel == 5"}],
 "mark": {"type": "text", "align": "left", "baseline": "middle", "fontSize": 14, "color": "#222"},
 "encoding": {"x": {"datum": "name", "type": "nominal", "axis": null}, "y": {"field": "row", "type": "quantitative", "axis": null}, "text": {"field": "study", "type": "nominal"}}}
]},
{"layer": [
{"data": {"name": "studies"}, "transform": [{"filter": "datum.panel == 5"}, {"fold": ["or", "lo", "hi", "z", "p"], "as": ["col", "val"]}],
 "mark": {"type": "text", "align": "right", "baseline": "middle", "fontSize": 14, "color": "#333"},
 "encoding": {"x": {"field": "col", "type": "nominal", "scale": {"type": "point", "domain": ["or", "lo", "hi", "z", "p"], "range": [259, 491], "padding": 0}, "axis": null},
  "y": {"field": "row", "type": "quantitative", "axis": null},
  "text": {"field": "val", "type": "quantitative", "format": ".3f"}}},
{"data": {"name": "colheads"},
 "mark": {"type": "text", "align": "right", "baseline": "middle", "dx": -4, "fontSize": 13.5, "fontWeight": "bold", "color": "#000"},
 "encoding": {"x": {"field": "col", "type": "nominal", "axis": null}, "y": {"datum": -1.056, "type": "quantitative", "axis": null}, "text": {"field": "l1", "type": "nominal"}}},
{"data": {"name": "colheads"},
 "mark": {"type": "text", "align": "right", "baseline": "middle", "dx": -4, "fontSize": 13.5, "fontWeight": "bold", "color": "#000"},
 "encoding": {"x": {"field": "col", "type": "nominal", "axis": null}, "y": {"datum": -0.247, "type": "quantitative", "axis": null}, "text": {"field": "l2", "type": "nominal"}}},
{"data": {"name": "panels"}, "transform": [{"filter": "datum.panel == 5"}],
 "mark": {"type": "text", "align": "center", "baseline": "middle", "dx": -18, "fontSize": 14, "fontWeight": "bold", "color": "#000", "text": "Statistics for each study"},
 "encoding": {"x": {"datum": "hi", "type": "nominal", "axis": null}, "y": {"datum": -2.31, "type": "quantitative", "axis": null}}},
{"data": {"name": "panels"}, "transform": [{"filter": "datum.panel == 5"}],
 "mark": {"type": "rule", "xOffset": 13, "x2Offset": 7, "color": "#555", "strokeWidth": 1.2},
 "encoding": {"x": {"datum": "or", "type": "nominal", "axis": null}, "x2": {"datum": "z"}, "y": {"datum": -1.98, "type": "quantitative", "axis": null}}}
]},
{"resolve": {"scale": {"size": "independent"}},
 "layer": [
{"data": {"name": "panels"}, "transform": [{"filter": "datum.panel == 5"}],
 "mark": {"type": "text", "align": "center", "baseline": "middle", "dx": 3, "fontSize": 14, "fontWeight": "bold", "color": "#000", "text": "Odds ratio and 95% CI"},
 "encoding": {"x": {"datum": 1, "type": "quantitative", "scale": {"type": "log", "domain": [0.1, 10], "range": [530, 777], "clamp": true, "nice": false}, "axis": null}, "y": {"datum": -2.31, "type": "quantitative", "axis": null}}},
{"data": {"name": "panels"}, "transform": [{"filter": "datum.panel == 5"}],
 "mark": {"type": "rule", "xOffset": -75, "x2Offset": 79, "color": "#555", "strokeWidth": 1.2},
 "encoding": {"x": {"datum": 1, "type": "quantitative", "axis": null}, "x2": {"datum": 1}, "y": {"datum": -1.98, "type": "quantitative", "axis": null}}},
{"data": {"name": "ticks"}, "transform": [{"filter": "datum.panel == 5"}],
 "mark": {"type": "rule", "color": "#000", "strokeWidth": 2},
 "encoding": {"x": {"field": "v", "type": "quantitative", "axis": null}, "y": {"datum": 0.495, "type": "quantitative", "axis": null}, "y2": {"datum": 7.465}}},
{"data": {"name": "ticks"}, "transform": [{"filter": "datum.panel == 5"}],
 "mark": {"type": "text", "align": "center", "baseline": "middle", "fontSize": 13, "fontWeight": "bold", "color": "#000"},
 "encoding": {"x": {"field": "v", "type": "quantitative", "axis": null}, "y": {"datum": 8.4, "type": "quantitative", "axis": null}, "text": {"field": "v", "type": "quantitative", "format": "~g"}}},
{"data": {"name": "studies"}, "transform": [{"filter": "datum.panel == 5 && datum.row < 7"}],
 "mark": {"type": "rule", "color": "#000", "strokeWidth": 2},
 "encoding": {"x": {"field": "lo", "type": "quantitative", "axis": null}, "x2": {"field": "hi"}, "y": {"field": "row", "type": "quantitative", "axis": null}}},
{"data": {"name": "studies"}, "transform": [{"filter": "datum.panel == 5 && datum.row < 7 && datum.or <= 10"}],
 "mark": {"type": "square", "filled": true, "color": "#000", "opacity": 1},
 "encoding": {"x": {"field": "or", "type": "quantitative", "axis": null}, "y": {"field": "row", "type": "quantitative", "axis": null}, "size": {"field": "wt", "type": "quantitative", "scale": {"domain": [0, 100], "range": [0, 300]}, "legend": null}}},
{"data": {"name": "studies"}, "transform": [{"filter": "datum.panel == 5 && datum.row == 7"}, {"fold": ["lo", "or"], "as": ["k", "xv"]}],
 "mark": {"type": "trail", "color": "#000"},
 "encoding": {"x": {"field": "xv", "type": "quantitative", "axis": null}, "y": {"field": "row", "type": "quantitative", "axis": null}, "size": {"field": "k", "type": "ordinal", "scale": {"type": "point", "domain": ["lo", "or"], "range": [0, 16.5]}, "legend": null}}},
{"data": {"name": "studies"}, "transform": [{"filter": "datum.panel == 5 && datum.row == 7"}, {"fold": ["or", "hi"], "as": ["k", "xv"]}],
 "mark": {"type": "trail", "color": "#000"},
 "encoding": {"x": {"field": "xv", "type": "quantitative", "axis": null}, "y": {"field": "row", "type": "quantitative", "axis": null}, "size": {"field": "k", "type": "ordinal", "scale": {"type": "point", "domain": ["hi", "or"], "range": [0, 16.5]}, "legend": null}}},
{"data": {"name": "panels"}, "transform": [{"filter": "datum.panel == 5"}],
 "mark": {"type": "point", "shape": "M-6.33,0L-3.5,-0.5L-3.5,-0.2L-0.06,-0.2L-0.06,0.2L-3.5,0.2L-3.5,0.5Z M6,0L3.17,-0.5L3.17,-0.2L0.07,-0.2L0.07,0.2L3.17,0.2L3.17,0.5Z", "size": 400, "filled": true, "fill": "#fff", "stroke": "#555", "strokeWidth": 1, "opacity": 1},
 "encoding": {"x": {"datum": 1, "type": "quantitative", "axis": null}, "y": {"datum": 9.26, "type": "quantitative", "axis": null}}},
{"data": {"name": "panels"}, "transform": [{"filter": "datum.panel == 5"}],
 "mark": {"type": "text", "align": "right", "baseline": "middle", "dx": -66, "font": "Liberation Serif", "fontSize": 11.5, "fontWeight": "bold", "color": "#111", "text": "Decrease risk"},
 "encoding": {"x": {"datum": 1, "type": "quantitative", "axis": null}, "y": {"datum": 9.26, "type": "quantitative", "axis": null}}},
{"data": {"name": "panels"}, "transform": [{"filter": "datum.panel == 5"}],
 "mark": {"type": "text", "align": "left", "baseline": "middle", "dx": 68, "font": "Liberation Serif", "fontSize": 11.5, "fontWeight": "bold", "color": "#111", "text": "Increase risk"},
 "encoding": {"x": {"datum": 1, "type": "quantitative", "axis": null}, "y": {"datum": 9.26, "type": "quantitative", "axis": null}}}
]}
]
}
]
}
